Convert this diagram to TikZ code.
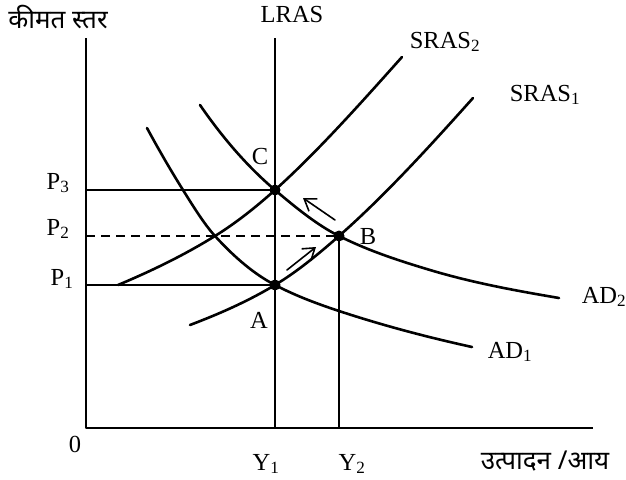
\documentclass[tikz,border=0pt]{standalone}
\usepackage{fontspec}
\setmainfont{Liberation Serif}
\newfontfamily\deva[Script=Devanagari]{Noto Sans}
\usetikzlibrary{arrows.meta}

\begin{document}
\begin{tikzpicture}[x=1pt,y=-1pt,line cap=round,line join=round,
  axisline/.style={line width=2.6pt,line cap=butt},
  curve/.style={line width=2.6pt},
  guide/.style={line width=2.4pt,line cap=butt},
  shiftarrow/.style={line width=1.6pt,-{Straight Barb[length=11pt,width=15pt,line width=1.6pt]}},
  lbl/.style={font=\fontsize{24.5}{28}\selectfont,inner sep=0pt},
  devlbl/.style={font=\fontsize{26}{30}\selectfont\deva,inner sep=0pt},
  dot/.style={circle,fill=black,inner sep=0pt,minimum size=11pt}]
  \useasboundingbox (0,0) rectangle (626,479);
  % axes
  \coordinate (O) at (86,428);
  \coordinate (ytop) at (86,38);
  \coordinate (xend) at (593,428);
  \draw[axisline] (ytop) -- (O) -- (xend);
  % equilibrium points
  \coordinate (A) at (275,285);
  \coordinate (B) at (339,236);
  \coordinate (C) at (275,190);
  \coordinate (lrastop) at (275,38);
  \coordinate (Y1) at (275,428);
  \coordinate (Y2) at (339,428);
  \coordinate (P1) at (86,285);
  \coordinate (P2) at (86,236);
  \coordinate (P3) at (86,190);
  \draw[axisline] (lrastop) -- (Y1);
  \draw[guide] (B) -- (Y2);
  \draw[guide] (P3) -- (C);
  \draw[guide] (P1) -- (A);
  \draw[guide,dash pattern=on 9pt off 6pt] (P2) -- (B);
  % supply curves
  \draw[curve] (190,325) .. controls +(28.3,-10.8) and +(-28.3,17) .. (A)
    .. controls +(21.3,-12.8) and +(-21.3,18.8) .. (B)
    .. controls +(44.7,-39.3) and +(-44.7,50) .. (473,98);
  \draw[curve] (118,285) .. controls +(32.3,-13.6) and +(-32.3,20) .. (215,236)
    .. controls +(20,-12.4) and +(-20,18) .. (C)
    .. controls +(42.3,-38.1) and +(-42.3,47.4) .. (402,57);
  % demand curves
  \draw[curve] (147,128) .. controls +(12,22.2) and +(-12,-19.2) .. (183,190)
    .. controls +(10.67,17.07) and +(-10.67,-11.73) .. (215,236)
    .. controls +(20,22) and +(-20,-10.4) .. (A)
    .. controls +(21.33,11.09) and +(-21.33,-7.04) .. (339,311)
    .. controls +(44.33,14.63) and +(-44.33,-9.75) .. (472,347);
  \draw[curve] (200,105) .. controls +(25,36.25) and +(-25,-21.25) .. (C)
    .. controls +(21.33,18.13) and +(-21.33,-10.67) .. (B)
    .. controls +(30.33,15.17) and +(-30.33,-9.1) .. (430,270)
    .. controls +(43,12.9) and +(-43,-7.31) .. (559,298);
  % adjustment arrows
  \coordinate (arr1s) at (287,270);
  \coordinate (arr1e) at (316,247);
  \coordinate (arr2s) at (335,220);
  \coordinate (arr2e) at (303,198);
  \draw[shiftarrow] (arr1s) -- (arr1e);
  \draw[shiftarrow] (arr2s) -- (arr2e);
  \node[dot] (dA) at (A) {};
  \node[dot] (dB) at (B) {};
  \node[dot] (dC) at (C) {};
  % labels
  \node[devlbl] (price) at (58,17) {कीमत स्तर};
  \node[devlbl] (output) at (545,461) {उत्पादन /आय};
  \node[lbl] (lras) at (292,15) {LRAS};
  \node[lbl] (sras2) at (445,42) {SRAS\textsubscript{2}};
  \node[lbl] (sras1) at (545,95) {SRAS\textsubscript{1}};
  \node[lbl] (ad2) at (604,297) {AD\textsubscript{2}};
  \node[lbl] (ad1) at (510,352) {AD\textsubscript{1}};
  \node[lbl] (lC) at (260,157) {C};
  \node[lbl] (lB) at (368,237) {B};
  \node[lbl] (lA) at (259,320) {A};
  \node[lbl] (lP3) at (58,183) {P\textsubscript{3}};
  \node[lbl] (lP2) at (58,229) {P\textsubscript{2}};
  \node[lbl] (lP1) at (62,279) {P\textsubscript{1}};
  \node[lbl] (l0) at (75,444) {0};
  \node[lbl] (lY1) at (266,464) {Y\textsubscript{1}};
  \node[lbl] (lY2) at (352,464) {Y\textsubscript{2}};
\end{tikzpicture}
\end{document}
